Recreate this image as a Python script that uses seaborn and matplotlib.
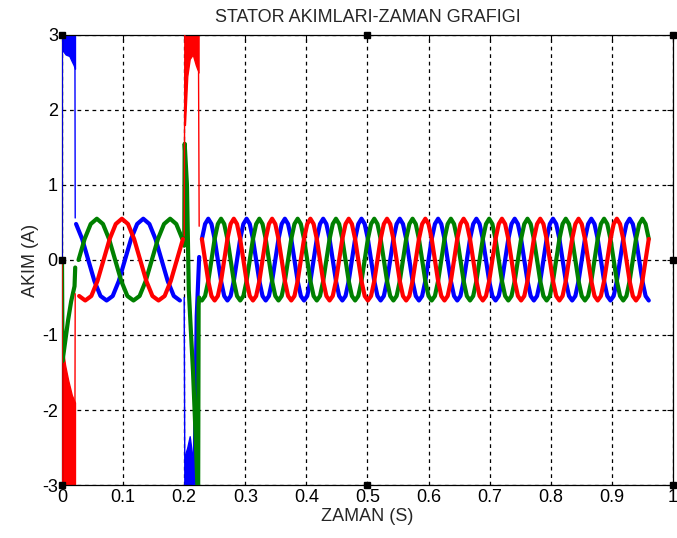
import numpy as np
import pandas as pd
import matplotlib
matplotlib.use("Agg")
import matplotlib.pyplot as plt
import seaborn as sns

# colours of the three stator phases
phase_colors = {"blue": "#0000ff", "green": "#008000", "red": "#ff0000"}

# one cycle of the steady current, starting at the peak (12 steps)
cycle_shape = [0.55, 0.48, 0.28, 0.0, -0.28, -0.48, -0.54, -0.48, -0.28, 0.0, 0.28, 0.48]

# first running interval (after start-up)
seg1_span = [0.0215, 0.2]
seg1_period = 0.12
seg1_peaks = {"blue": 0.133, "green": 0.057, "red": 0.098}

# second running interval (after the step at 0.2 s)
seg2_span = [0.2245, 0.963]
seg2_period = 0.0627
seg2_peaks = {"blue": 0.2394, "green": 0.2603, "red": 0.2812}

# start-up transient (0 .. 0.0215 s)
blue_start_t = [0.0, 0.0004]
blue_start_i = [0.0, 3.3]
blue_band1_t = [0.0004, 0.006, 0.012, 0.016, 0.019, 0.0212]
blue_band1_lo = [2.8, 2.74, 2.72, 2.65, 2.6, 2.55]
blue_drop_t = [0.0212, 0.0216]
blue_drop_i = [2.55, 0.56]

red_start_t = [0.0, 0.0004]
red_start_i = [0.0, -3.3]
red_band1_t = [0.0004, 0.005, 0.01, 0.016, 0.0212]
red_band1_hi = [-1.13, -1.4, -1.6, -1.8, -1.9]
red_rise_t = [0.0212, 0.0216]
red_rise_i = [-1.9, -0.45]

green_start_t = [0.0, 0.0008, 0.005, 0.01, 0.015, 0.0205, 0.0216]
green_start_i = [0.0, -1.35, -1.1, -0.8, -0.55, -0.35, -0.1]

# step transient (0.2 .. 0.2245 s)
red_step_t = [0.2, 0.2012]
red_step_i = [0.32, 3.3]
red_band2_t = [0.2012, 0.205, 0.209, 0.214, 0.219, 0.2235]
red_band2_lo = [1.8, 2.45, 2.68, 2.74, 2.6, 2.5]
red_back_t = [0.2235, 0.2245]
red_back_i = [2.5, 0.45]

blue_step_t = [0.2, 0.2012]
blue_step_i = [-0.5, -3.3]
blue_band2_t = [0.2012, 0.205, 0.209, 0.213, 0.2165]
blue_band2_hi = [-2.6, -2.5, -2.35, -2.6, -2.75]
blue_back_t = [0.2165, 0.2185, 0.2205, 0.2245]
blue_back_i = [-3.3, -1.9, -0.75, 0.04]

green_step_t = [0.2, 0.2008, 0.2045, 0.2075, 0.21, 0.2145, 0.219, 0.2228, 0.2236, 0.2245]
green_step_i = [0.19, 1.55, 1.0, -0.4, -0.8, -1.5, -2.4, -3.3, -0.6, -0.5]

# selection handles drawn by the figure editor
handle_x = [0, 0.5, 1, 0, 1, 0, 0.5, 1]
handle_y = [3, 3, 3, 0, 0, -3, -3, -3]

x_ticks = [0, 0.1, 0.2, 0.3, 0.4, 0.5, 0.6, 0.7, 0.8, 0.9, 1]
x_tick_labels = ["0", "0.1", "0.2", "0.3", "0.4", "0.5", "0.6", "0.7", "0.8", "0.9", "1"]
y_ticks = [-3, -2, -1, 0, 1, 2, 3]
y_tick_labels = ["-3", "-2", "-1", "0", "1", "2", "3"]


def steady(span, period, peak):
    # repeat the read cycle from the peak time, keep what falls in the span
    n = len(cycle_shape)
    k0 = int(np.floor((span[0] - peak) / period * n)) - 1
    k1 = int(np.ceil((span[1] - peak) / period * n)) + 1
    ks = np.arange(k0, k1 + 1)
    t = peak + ks * period / n
    i = np.array(cycle_shape)[ks % n]
    keep = (t >= span[0]) & (t <= span[1])
    return t[keep], i[keep]


sns.set_style("white")
plt.rcParams["font.family"] = ["Liberation Sans", "DejaVu Sans"]
plt.rcParams["axes.unicode_minus"] = False

fig, ax = plt.subplots(figsize=(6.77, 5.38), dpi=100)
fig.subplots_adjust(left=0.0916, right=0.994, bottom=0.0985, top=0.935)

thin = {
    "blue": [(blue_start_t, blue_start_i), (blue_drop_t, blue_drop_i), (blue_step_t, blue_step_i)],
    "red": [(red_start_t, red_start_i), (red_rise_t, red_rise_i), (red_step_t, red_step_i),
            (red_back_t, red_back_i)],
    "green": [],
}
thick_extra = {
    "blue": [(blue_back_t, blue_back_i)],
    "red": [],
    "green": [(green_start_t, green_start_i), (green_step_t, green_step_i)],
}

# ripple bands (too dense to show as a line)
bands = [
    (blue_band1_t, blue_band1_lo, 3.3, "blue"),
    (red_band1_t, -3.3, red_band1_hi, "red"),
    (red_band2_t, red_band2_lo, 3.3, "red"),
    (blue_band2_t, -3.3, blue_band2_hi, "blue"),
]
for bt, lo, hi, ph in bands:
    ax.fill_between(bt, lo, hi, facecolor=phase_colors[ph], edgecolor=phase_colors[ph],
                    lw=1.0, zorder=2)

for z, ph in enumerate(["blue", "green", "red"]):
    c = phase_colors[ph]
    t1, i1 = steady(seg1_span, seg1_period, seg1_peaks[ph])
    t2, i2 = steady(seg2_span, seg2_period, seg2_peaks[ph])
    pieces = [(t1, i1), (t2, i2)] + thick_extra[ph]
    for t, i in pieces:
        sns.lineplot(x=list(t), y=list(i), sort=False, estimator=None, color=c,
                     linewidth=3.0, ax=ax, zorder=3 + z)
    for t, i in thin[ph]:
        sns.lineplot(x=t, y=i, sort=False, estimator=None, color=c,
                     linewidth=1.0, ax=ax, zorder=3 + z)

ax.plot(handle_x, handle_y, ls="none", marker="s", ms=5, color="black",
        clip_on=False, zorder=10)

ax.set_xlim(0, 1)
ax.set_ylim(-3, 3)
ax.set_xticks(x_ticks)
ax.set_xticklabels(x_tick_labels)
ax.set_yticks(y_ticks)
ax.set_yticklabels(y_tick_labels)
ax.grid(True, linestyle=(0, (3, 3)), color="black", linewidth=0.9)
ax.tick_params(direction="in", length=4, top=True, right=True, labelsize=13,
               colors="black", pad=3)
for s in ax.spines.values():
    s.set_visible(True)
    s.set_color("black")
    s.set_linewidth(0.9)

ax.set_title("STATOR AKIMLARI-ZAMAN GRAFIGI", fontsize=13, pad=9)
ax.set_xlabel("ZAMAN (S)", fontsize=13, labelpad=1)
ax.set_ylabel("AKIM (A)", fontsize=13, labelpad=2)

fig.savefig("out.png", dpi=100)
